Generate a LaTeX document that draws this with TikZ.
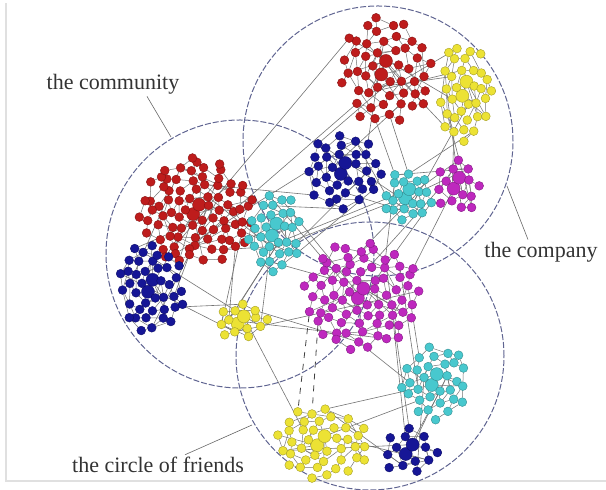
\documentclass[tikz,border=0pt]{standalone}
\usepackage{fontspec}
\setmainfont{Liberation Serif}
\usetikzlibrary{backgrounds}

\definecolor{netred}{RGB}{190,28,28}
\definecolor{netyellow}{RGB}{236,226,52}
\definecolor{netblue}{RGB}{22,22,150}
\definecolor{netcyan}{RGB}{72,200,206}
\definecolor{netmagenta}{RGB}{190,40,190}
\definecolor{ringgray}{RGB}{95,100,145}

\tikzset{
  netdot/.style={circle, inner sep=0pt, line width=0.2pt},
  link/.style={draw=black!55, line width=0.25pt},
  bridge/.style={draw=black!55, line width=0.3pt},
  ring/.style={draw=ringgray, line width=0.5pt, dash pattern=on 3pt off 1pt},
  tag/.style={font=\fontsize{11}{13}\selectfont, text=black!80, inner sep=1pt},
  leader/.style={draw=black!60, line width=0.3pt}
}

% one coloured group of people: name, colour, centre x, centre y, radius x, radius y, count
\newcommand{\netcluster}[7]{%
  \foreach \i in {1,...,#7}{
    \pgfmathsetmacro{\ang}{\i*137.508+14*rnd}
    \pgfmathsetmacro{\rad}{sqrt((\i-0.6+0.3*rnd)/#7)}
    \ifnum\i<3 \def\dsz{6.5pt}\else\def\dsz{4.4pt}\fi
    \node[netdot, minimum size=\dsz, fill=#2, draw=#2!70!black] (#1-\i)
      at ({#3+#5*\rad*cos(\ang)},{#4+#6*\rad*sin(\ang)}) {};
  }%
}
% links inside a group: name, count, extra links
\newcommand{\netlinks}[3]{%
  \foreach \i in {2,...,#2}{
    \pgfmathtruncatemacro{\j}{max(1,\i-(\i>40 ? 13 : (\i>12 ? 8 : 3)))}
    \draw[link] (#1-\i) -- (#1-\j);
    \pgfmathtruncatemacro{\k}{max(1,\i-(\i>40 ? 21 : (\i>12 ? 5 : 2)))}
    \pgfmathtruncatemacro{\coin}{rnd<0.6 ? 1 : 0}
    \ifnum\coin=1 \draw[link] (#1-\i) -- (#1-\k);\fi
  }
  \foreach \t in {1,...,#3}{
    \pgfmathtruncatemacro{\a}{random(1,2)}
    \pgfmathtruncatemacro{\b}{random(3,#2)}
    \draw[link] (#1-\a) -- (#1-\b);
  }%
}
% links between two groups: name A, count A, name B, count B, links
\newcommand{\netbridge}[5]{%
  \foreach \t in {1,...,#5}{
    \pgfmathtruncatemacro{\a}{random(1,#2)}
    \pgfmathtruncatemacro{\b}{random(1,#4)}
    \draw[bridge] (#1-\a) -- (#3-\b);
  }%
}

\begin{document}
\begin{tikzpicture}[x=0.5pt, y=-0.5pt]
  \useasboundingbox (0,0) rectangle (606,490);
  \pgfmathsetseed{42}

  % scan frame
  \draw[black!12, line width=0.8pt] (6,3) -- (6,481) -- (606,481);

  % the three circles
  \draw[ring] (378,141) circle[radius=67.5pt];
  \draw[ring] (240,254) circle[radius=67pt];
  \draw[ring] (370,356) circle[radius=67pt];

  % groups, the company
  \netcluster{RT}{netred}{385}{71}{48}{55}{50}
  \netcluster{YT}{netyellow}{465}{92}{27}{52}{35}
  \netcluster{BT}{netblue}{344}{171}{38}{40}{35}
  \netcluster{CT}{netcyan}{408}{196}{25}{27}{22}
  \netcluster{MT}{netmagenta}{457}{186}{25}{27}{16}
  % groups, the community
  \netcluster{RL}{netred}{197}{212}{58}{55}{85}
  \netcluster{CL}{netcyan}{275}{232}{28}{40}{32}
  \netcluster{BL}{netblue}{151}{288}{34}{46}{42}
  \netcluster{YL}{netyellow}{242}{322}{28}{18}{15}
  % groups, the circle of friends
  \netcluster{MB}{netmagenta}{362}{296}{60}{55}{75}
  \netcluster{CB}{netcyan}{435}{382}{35}{38}{32}
  \netcluster{YB}{netyellow}{322}{443}{48}{37}{42}
  \netcluster{BB}{netblue}{410}{452}{30}{24}{15}

  \begin{pgfonlayer}{background}
    \netlinks{RT}{50}{8}
    \netlinks{YT}{35}{5}
    \netlinks{BT}{35}{5}
    \netlinks{CT}{22}{4}
    \netlinks{MT}{16}{3}
    \netlinks{RL}{85}{10}
    \netlinks{CL}{32}{5}
    \netlinks{BL}{42}{6}
    \netlinks{YL}{15}{3}
    \netlinks{MB}{75}{10}
    \netlinks{CB}{32}{5}
    \netlinks{YB}{42}{6}
    \netlinks{BB}{15}{3}

    \netbridge{RT}{50}{YT}{35}{5}
    \netbridge{RT}{50}{BT}{35}{3}
    \netbridge{BT}{35}{CT}{22}{3}
    \netbridge{CT}{22}{MT}{16}{3}
    \netbridge{YT}{35}{MT}{16}{3}
    \netbridge{YT}{35}{CT}{22}{2}
    \netbridge{RL}{85}{BT}{35}{2}
    \netbridge{RL}{85}{RT}{50}{2}
    \netbridge{CL}{32}{BT}{35}{3}
    \netbridge{CL}{32}{RL}{85}{4}
    \netbridge{CL}{32}{MB}{75}{3}
    \netbridge{CL}{32}{CT}{22}{2}
    \netbridge{RL}{85}{BL}{42}{4}
    \netbridge{BL}{42}{YL}{15}{3}
    \netbridge{YL}{15}{CL}{32}{3}
    \netbridge{YL}{15}{MB}{75}{3}
    \netbridge{YL}{15}{RL}{85}{2}
    \netbridge{MB}{75}{CT}{22}{3}
    \netbridge{MB}{75}{MT}{16}{2}
    \netbridge{MB}{75}{CB}{32}{3}
    \netbridge{MB}{75}{BB}{15}{2}
    \netbridge{CB}{32}{YB}{42}{2}
    \netbridge{CB}{32}{BB}{15}{3}
    \netbridge{YB}{42}{BB}{15}{3}
    \netbridge{YL}{15}{YB}{42}{1}
    \draw[bridge] (RT-32) -- (CT-15);
    \draw[bridge] (RT-40) -- (CT-20);
    \draw[bridge, draw=black!75, line width=0.4pt, dashed] (MB-64) -- (YB-41);
    \draw[bridge, draw=black!75, line width=0.4pt, dashed] (MB-56) -- (YB-28);
  \end{pgfonlayer}

  % labels
  \node[tag] (comm) at (113,84) {the community};
  \node[tag] (comp) at (541,252) {the company};
  \node[tag] (friends) at (158,465) {the circle of friends};
  \coordinate (commtip) at (171,137);
  \coordinate (comptip) at (507,186);
  \coordinate (friendstip) at (252,425);
  \draw[leader] ([xshift=17pt]comm.south) -- (commtip);
  \draw[leader] ([xshift=-6.5pt]comp.north) -- (comptip);
  \draw[leader] ([xshift=13.5pt]friends.north) -- (friendstip);
\end{tikzpicture}
\end{document}
